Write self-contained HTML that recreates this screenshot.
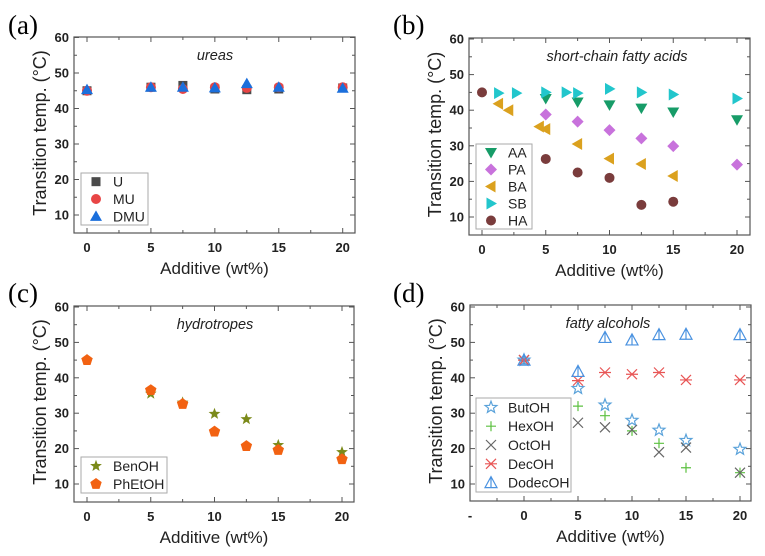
<!DOCTYPE html>
<html><head><meta charset="utf-8"><style>
body{margin:0;background:#fff;width:765px;height:556px;overflow:hidden}
svg{display:block;font-family:"Liberation Sans",sans-serif}
</style></head><body>
<svg id="fig" width="765" height="556" viewBox="0 0 765 556"></svg>
<script>
const NS="http://www.w3.org/2000/svg";
const svg=document.getElementById('fig');
// ---- data ----
const xA=[0,5,7.5,10,12.5,15,20];
const yU=[45,46,46.5,45.5,45.3,45.5,45.8];
const yMU=[45,46,45.5,46,45.8,46,46];
const yDMU=[45.3,46,46,45.8,47,46,45.7];
const xAA=[5,7.5,10,12.5,15,20];
const yAA=[43.3,42.3,41.5,40.6,39.5,37.3];
const xPA=[5,7.5,10,12.5,15,20];
const yPA=[38.8,36.8,34.4,32.1,29.9,24.7];
const xBA=[1.3,2.1,4.5,5,7.5,10,12.5,15];
const yBA=[41.8,40,35.4,34.7,30.5,26.4,24.9,21.5];
const xSB=[1.3,2.7,5,6.6,7.5,10,12.5,15,20];
const ySB=[44.8,44.8,45,45,44.8,46,45,44.4,43.3];
const xHA=[0,5,7.5,10,12.5,15];
const yHA=[45,26.3,22.5,21,13.4,14.3];
const xC=[0,5,7.5,10,12.5,15,20];
const yBen=[45,35.5,33,29.8,28.3,21,19];
const yPhEt=[45,36.5,32.6,24.8,20.7,19.6,17];
const xD=[0,5,7.5,10,12.5,15,20];
const yBut=[45,37,32.3,28,25.2,22.3,19.8];
const yHex=[45,32,29.3,25,21.5,14.6,13.2];
const yOct=[45,27.3,26,25.3,19,20.3,13.2];
const yDec=[45,39.2,41.5,41,41.5,39.4,39.4];
const yDodec=[45,41.8,51.4,50.7,52.2,52.3,52.2];
const xTicks=[0,5,10,15,20];
const yTicks=[10,20,30,40,50,60];

function el(tag,attrs,parent,text){const e=document.createElementNS(NS,tag);for(const k in attrs)e.setAttribute(k,attrs[k]);if(text!==undefined)e.textContent=text;(parent||svg).appendChild(e);return e;}

function marker(g,shape,cx,cy,color){
  let e;
  if(shape==='square')e=el('rect',{x:cx-4.5,y:cy-4.5,width:9,height:9,fill:color},g);
  else if(shape==='circle')e=el('circle',{cx:cx,cy:cy,r:5,fill:color},g);
  else if(shape==='tri')e=el('path',{d:`M${cx},${cy-6}L${cx+6},${cy+4.5}L${cx-6},${cy+4.5}Z`,fill:color},g);
  else if(shape==='tridown')e=el('path',{d:`M${cx},${cy+6}L${cx+6},${cy-4.5}L${cx-6},${cy-4.5}Z`,fill:color},g);
  else if(shape==='trileft')e=el('path',{d:`M${cx-6},${cy}L${cx+4.5},${cy-6}L${cx+4.5},${cy+6}Z`,fill:color},g);
  else if(shape==='triright')e=el('path',{d:`M${cx+6},${cy}L${cx-4.5},${cy-6}L${cx-4.5},${cy+6}Z`,fill:color},g);
  else if(shape==='diamond')e=el('path',{d:`M${cx},${cy-6}L${cx+6},${cy}L${cx},${cy+6}L${cx-6},${cy}Z`,fill:color},g);
  else if(shape==='star'||shape==='ostar'){let d='';for(let i=0;i<10;i++){const r=i%2?2.6:6.2,a=-Math.PI/2+i*Math.PI/5;d+=(i?'L':'M')+(cx+r*Math.cos(a)).toFixed(1)+','+(cy+r*Math.sin(a)).toFixed(1);}
    e=el('path',shape==='star'?{d:d+'Z',fill:color}:{d:d+'Z',fill:'none',stroke:color,'stroke-width':1.2},g);}
  else if(shape==='pent'){let d='';for(let i=0;i<5;i++){const a=-Math.PI/2+i*2*Math.PI/5;d+=(i?'L':'M')+(cx+6*Math.cos(a)).toFixed(1)+','+(cy+6*Math.sin(a)).toFixed(1);}e=el('path',{d:d+'Z',fill:color},g);}
  else if(shape==='plus')e=el('path',{d:`M${cx-5},${cy}H${cx+5}M${cx},${cy-5}V${cy+5}`,stroke:color,'stroke-width':1.2},g);
  else if(shape==='x')e=el('path',{d:`M${cx-5},${cy-5}L${cx+5},${cy+5}M${cx+5},${cy-5}L${cx-5},${cy+5}`,stroke:color,'stroke-width':1.2},g);
  else if(shape==='asterisk')e=el('path',{d:`M${cx-5},${cy-5}L${cx+5},${cy+5}M${cx+5},${cy-5}L${cx-5},${cy+5}M${cx-6},${cy}H${cx+6}`,stroke:color,'stroke-width':1.2},g);
  else if(shape==='otri')e=el('path',{d:`M${cx},${cy-6}L${cx+6},${cy+5}L${cx-6},${cy+5}ZM${cx},${cy-6}V${cy+5}`,fill:'none',stroke:color,'stroke-width':1.2},g);
  return e;
}

function panel(p){
  const g=el('g',{});
  
  
  const sx=v=>p.x0+(v-0)*(p.x20-p.x0)/20;
  const sy=v=>p.y60+(60-v)*(p.y10-p.y60)/50;
  const L=p.L,R=p.R,T=p.T,B=p.B;
  const lab=el('text',{x:p.lx,y:p.ly,'font-family':'Liberation Serif,serif','font-size':27},g,'('+p.id+')');
  
  const frame=el('rect',{x:L,y:T,width:R-L,height:B-T,fill:'none',stroke:'#555','stroke-width':1.2},g);
  
  for(let v=p.xmin;v<=20;v+=2.5){const X=sx(v);if(X<L+1||X>R-1)continue;const major=v%5===0;
    el('line',{x1:X,x2:X,y1:B,y2:B-(major?5:3),stroke:'#555'},g);el('line',{x1:X,x2:X,y1:T,y2:T+(major?5:3),stroke:'#555'},g);}
  xTicks.forEach(v=>{const t=el('text',{x:sx(v),y:B+19,'text-anchor':'middle','font-size':13,'font-weight':'bold',fill:'#222'},g,String(v));
    });
  if(p.extraDash){el('text',{x:L,y:B+19,'text-anchor':'middle','font-size':13,'font-weight':'bold',fill:'#222'},g,'-');}
  for(let v=10;v<=60;v+=5){const Y=sy(v);if(Y<T)continue;const major=v%10===0;
    el('line',{x1:L,x2:L+(major?5:3),y1:Y,y2:Y,stroke:'#555'},g);el('line',{x1:R,x2:R-(major?5:3),y1:Y,y2:Y,stroke:'#555'},g);}
  yTicks.forEach(v=>{const t=el('text',{x:L-5,y:sy(v)+4.5,'text-anchor':'end','font-size':13,'font-weight':'bold',fill:'#222'},g,String(v));
    });
  const xt=el('text',{x:(L+R)/2,y:B+41,'text-anchor':'middle','font-size':17,fill:'#222'},g,'Additive (wt%)');
  
  const yt=el('text',{x:0,y:0,'text-anchor':'middle','font-size':18,fill:'#222',transform:`translate(${L-28},${(T+B)/2-2}) rotate(-90)`},g,'Transition temp. (°C)');
  
  const tt=el('text',{x:p.tx,y:T+23,'text-anchor':'middle','font-size':14.5,'font-style':'italic',fill:'#222'},g,p.title);
  
  p.series.forEach(s=>{const sg=el('g',{},g);
    
    s.xs.forEach((x,i)=>{const m=marker(sg,s.shape,sx(x),sy(s.ys[i]),s.color);
      });});
  const lg=el('g',{},g);
  el('rect',{x:p.lg[0],y:p.lg[1],width:p.lg[2],height:p.lg[3],fill:'#fff',stroke:'#aaa'},lg);
  const step=p.lg[3]/p.series.length;
  p.series.forEach((s,i)=>{const cy=p.lg[1]+step*(i+0.5);
    const e=el('g',{},lg);
    marker(e,s.shape,p.lg[0]+15,cy,s.color);
    el('text',{x:p.lg[0]+32,y:cy+5,'font-size':14,fill:'#222'},e,s.name);});
}

panel({id:'a',lx:8,ly:34,L:74,R:355,T:37,B:233,x0:87,x20:342.7,y60:37.5,y10:215,xmin:-2.5,tx:215,title:'ureas',
  lg:[81,173,67,52],series:[
  {name:'U',shape:'square',color:'#4a4a4a',xs:xA,ys:yU},
  {name:'MU',shape:'circle',color:'#e84545',xs:xA,ys:yMU},
  {name:'DMU',shape:'tri',color:'#1b6fdc',xs:xA,ys:yDMU}]});
panel({id:'b',lx:393,ly:34,L:469,R:750,T:38,B:235,x0:482,x20:737,y60:39,y10:217,xmin:-2.5,tx:617,title:'short-chain fatty acids',
  lg:[476,144,56,85],series:[
  {name:'AA',shape:'tridown',color:'#179c68',xs:xAA,ys:yAA},
  {name:'PA',shape:'diamond',color:'#c872dc',xs:xPA,ys:yPA},
  {name:'BA',shape:'trileft',color:'#dba11e',xs:xBA,ys:yBA},
  {name:'SB',shape:'triright',color:'#22c6cc',xs:xSB,ys:ySB},
  {name:'HA',shape:'circle',color:'#7a3c3c',xs:xHA,ys:yHA}]});
panel({id:'c',lx:8,ly:302,L:74,R:354,T:306,B:502,x0:87,x20:342,y60:307,y10:484,xmin:-2.5,tx:215,title:'hydrotropes',
  lg:[81,457,86,36],series:[
  {name:'BenOH',shape:'star',color:'#7b8a1a',xs:xC,ys:yBen},
  {name:'PhEtOH',shape:'pent',color:'#f26212',xs:xC,ys:yPhEt}]});
panel({id:'d',lx:393,ly:302,L:470,R:751,T:305,B:501,x0:524,x20:740,y60:307,y10:484,xmin:-5,tx:608,title:'fatty alcohols',extraDash:true,
  lg:[476,398,95,94],series:[
  {name:'ButOH',shape:'ostar',color:'#5aa2da',xs:xD,ys:yBut},
  {name:'HexOH',shape:'plus',color:'#5cc040',xs:xD,ys:yHex},
  {name:'OctOH',shape:'x',color:'#666',xs:xD,ys:yOct},
  {name:'DecOH',shape:'asterisk',color:'#e85555',xs:xD,ys:yDec},
  {name:'DodecOH',shape:'otri',color:'#4a92e0',xs:xD,ys:yDodec}]});
</script>
</body></html>
